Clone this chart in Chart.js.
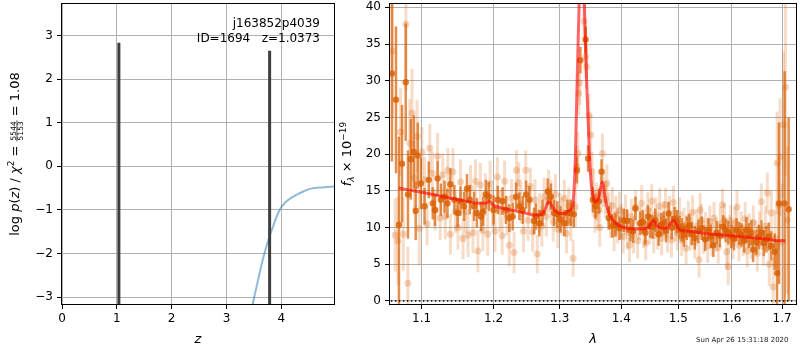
<!DOCTYPE html>
<html>
<head>
<meta charset="utf-8">
<script src="https://cdn.jsdelivr.net/npm/chart.js@4.4.1/dist/chart.umd.min.js"></script>
<style>
  html, body { margin: 0; padding: 0; background: #fff; }
  #wrap { position: relative; width: 800px; height: 350px; }
  #pzChart { position: absolute; left: 0; top: 0; }
  #specChart { position: absolute; left: 330px; top: 0; }
</style>
</head>
<body>
<div id="wrap">
  <canvas id="pzChart" width="340" height="350"></canvas>
  <canvas id="specChart" width="470" height="350"></canvas>
</div>
<script>
// --- left panel: log p(z) ---
const zGrid = [3.40, 3.45, 3.48, 3.55, 3.60, 3.66, 3.70, 3.756, 3.80, 3.85, 3.90, 3.95, 4.00, 4.05, 4.10, 4.20, 4.30, 4.40, 4.52, 4.70, 4.85, 4.99];
const logPz = [-3.7, -3.35, -3.15, -2.75, -2.47, -2.15, -1.96, -1.72, -1.55, -1.38, -1.20, -1.05, -0.94, -0.86, -0.80, -0.71, -0.64, -0.58, -0.52, -0.49, -0.475, -0.46];
const zPeaks = [1.0373, 3.786];
const peakTops = [2.83, 2.65];
const zTicks = [0, 1, 2, 3, 4];
const pzTicks = [-3, -2, -1, 0, 1, 2, 3];

// --- right panel: spectrum ---
const lamLight = [
  1.062, 1.0655, 1.069, 1.0725, 1.076, 1.0795, 1.082, 1.0845, 1.0875, 1.0905, 1.094, 1.097,
  1.1005, 1.104, 1.1075, 1.111, 1.1145, 1.118, 1.1215, 1.125, 1.1285, 1.132, 1.1355, 1.139, 1.1425, 1.146, 1.1495,
  1.153, 1.1565, 1.160, 1.1635, 1.167, 1.1705, 1.174, 1.1775, 1.181, 1.1845, 1.188, 1.1915, 1.195, 1.1985,
  1.202, 1.2055, 1.209, 1.2125, 1.216, 1.2195, 1.223, 1.2265, 1.230, 1.2335, 1.237, 1.2405, 1.244, 1.2475, 1.251,
  1.2545, 1.258, 1.2615, 1.265, 1.2685, 1.272, 1.2755, 1.279, 1.2825, 1.286, 1.2895, 1.293, 1.2965, 1.300,
  1.3035, 1.307, 1.3105, 1.314, 1.3175, 1.321, 1.3245, 1.327, 1.3285, 1.3300, 1.3315, 1.3385, 1.3413, 1.3425,
  1.3464, 1.3493, 1.3515, 1.354, 1.3565, 1.359, 1.3615, 1.364, 1.3665, 1.3685, 1.371, 1.3735, 1.376, 1.379,
  1.382, 1.385, 1.388, 1.391, 1.394, 1.397,
  1.400, 1.4035, 1.407, 1.4105, 1.414, 1.4175, 1.421, 1.4245, 1.428, 1.4315, 1.435, 1.4385, 1.442, 1.4455, 1.449,
  1.4525, 1.456, 1.4595, 1.463, 1.4665, 1.470, 1.4735, 1.477, 1.4805, 1.484, 1.4875, 1.491, 1.4945, 1.498,
  1.502, 1.506, 1.510, 1.514, 1.518, 1.522, 1.526, 1.530, 1.534, 1.538, 1.540, 1.542, 1.546, 1.550, 1.554, 1.558,
  1.562, 1.566, 1.570, 1.574, 1.578, 1.582, 1.586, 1.590, 1.593, 1.596, 1.598,
  1.602, 1.606, 1.610, 1.614, 1.618, 1.622, 1.626, 1.630, 1.634, 1.638, 1.642, 1.646, 1.650, 1.654, 1.658,
  1.662, 1.666, 1.670, 1.674, 1.678, 1.682, 1.686, 1.690, 1.693, 1.696, 1.700, 1.703, 1.707, 1.711
];
const fluxLight = [
  34.0, 9.0, 8.2, 23.0, 9.1, 37.7, 2.4, 21.5, 25.6, 16.8, 22.4, 9.9,
  20.3, 16.5, 10.5, 20.8, 17.4, 12.4, 19.7, 11.3, 17.2, 11.5, 17.8, 9.1, 17.6, 12.2, 10.0,
  16.2, 8.5, 12.2, 9.0, 15.4, 9.3, 16.3, 6.8, 15.8, 9.6, 14.5, 9.1, 16.0, 12.8,
  9.5, 16.9, 12.2, 8.9, 16.3, 11.6, 7.6, 14.0, 6.6, 17.8, 16.1, 13.2, 9.5, 17.8, 11.0,
  15.6, 9.4, 13.8, 6.4, 12.0, 10.2, 14.2, 11.5, 15.0, 13.9, 10.8, 14.5, 9.8, 12.0,
  11.5, 14.0, 9.2, 13.0, 10.8, 5.8, 12.8, 18.3, 20.1, 28.3, 29.7, 38.1, 33.3, 31.9,
  25.3, 22.6, 17.6, 14.6, 11.8, 13.5, 12.4, 10.0, 14.5, 20.1, 15.4, 13.8, 16.0, 12.3,
  11.0, 13.0, 9.2, 11.8, 10.2, 12.4,
  10.8, 8.8, 12.0, 9.4, 7.6, 11.5, 9.0, 12.8, 8.2, 10.6, 13.3, 9.6, 7.9, 12.4, 10.2,
  13.6, 8.9, 11.8, 9.4, 12.9, 8.5, 11.2, 13.1, 9.0, 12.0, 8.3, 13.4, 10.5, 9.2,
  11.8, 8.3, 10.4, 7.2, 11.3, 9.1, 12.1, 8.0, 10.2, 5.6, 12.4, 11.0, 8.7, 9.9, 7.5, 10.8,
  8.4, 11.3, 9.0, 7.3, 10.5, 13.1, 11.0, 6.7, 4.7, 9.4, 10.9,
  8.0, 10.6, 12.8, 7.6, 9.9, 8.3, 11.2, 6.8, 9.6, 7.9, 10.7, 8.6, 6.5, 9.8, 13.5,
  7.4, 10.2, 14.7, 5.0, 12.0, 1.9, 8.5, 18.8, 13.0, 19.6, 8.0, 24.0, 29.1, 11.0
];
const errLight = [
  9, 5, 6, 6, 5, 9, 5, 6, 6, 5, 5, 5,
  3.4, 3.1, 2.9, 3.3, 3.0, 2.8, 3.2, 3.0, 2.9, 3.1, 3.0, 2.8, 3.2, 2.9, 3.0,
  3.1, 2.8, 2.9, 3.0, 3.1, 2.8, 3.0, 2.9, 3.0, 2.8, 2.9, 3.0, 3.1, 2.8,
  2.8, 2.7, 2.9, 2.6, 2.8, 2.7, 2.9, 2.6, 2.8, 2.7, 2.8, 2.6, 2.9, 2.7, 2.8,
  2.6, 2.7, 2.8, 2.6, 2.7, 2.8, 2.6, 2.7, 2.9, 2.6, 2.7, 2.8, 2.6, 2.7,
  2.6, 2.5, 2.7, 2.5, 2.6, 2.5, 2.7, 2.8, 2.9, 3.0, 3.0, 3.1, 3.0, 3.0,
  2.9, 2.8, 2.7, 2.6, 2.5, 2.6, 2.5, 2.6, 2.5, 2.7, 2.6, 2.5, 2.6, 2.5,
  2.4, 2.5, 2.4, 2.5, 2.4, 2.5,
  2.4, 2.3, 2.5, 2.4, 2.3, 2.4, 2.5, 2.3, 2.4, 2.3, 2.5, 2.4, 2.3, 2.4, 2.5,
  2.3, 2.4, 2.3, 2.4, 2.5, 2.3, 2.4, 2.3, 2.4, 2.3, 2.4, 2.3, 2.4, 2.3,
  2.3, 2.2, 2.3, 2.2, 2.3, 2.2, 2.3, 2.2, 2.3, 2.4, 2.3, 2.2, 2.3, 2.2, 2.3, 2.2,
  2.3, 2.2, 2.3, 2.2, 2.3, 2.2, 2.3, 2.4, 2.5, 2.3, 2.2,
  2.3, 2.2, 2.3, 2.2, 2.3, 2.2, 2.3, 2.2, 2.3, 2.2, 2.3, 2.4, 2.5, 2.4, 2.5,
  2.6, 2.7, 2.8, 3.0, 3.0, 4.0, 4.0, 7.0, 6.0, 8.0, 8.0, 10.0, 12.0, 10.0
];

const lamBin = [
  1.0614, 1.0666, 1.0704, 1.0744, 1.0792, 1.0821, 1.0859, 1.0898, 1.0923, 1.0950, 1.0991,
  1.1040, 1.1097, 1.1150, 1.1180, 1.1216, 1.1260, 1.1310, 1.1350, 1.1390, 1.1445, 1.1490, 1.1530,
  1.1580, 1.1620, 1.1660, 1.1720, 1.1760, 1.1820, 1.1850, 1.1890, 1.1930, 1.2000,
  1.2060, 1.2130, 1.2180, 1.2230, 1.2280, 1.2330, 1.2380, 1.2430, 1.2480, 1.2530, 1.2600, 1.2630,
  1.2680, 1.2730, 1.2810, 1.2860, 1.2910, 1.2960, 1.3010, 1.3070, 1.3120, 1.3170, 1.3220, 1.3270,
  1.3326, 1.3411, 1.3450, 1.3527, 1.3570, 1.3627, 1.3670,
  1.3791, 1.3850, 1.3902, 1.3970, 1.4043, 1.4100, 1.4157, 1.4200, 1.4242, 1.4327, 1.4370, 1.4414,
  1.4460, 1.4501, 1.4540, 1.4588, 1.4646, 1.4690, 1.4734, 1.4780, 1.4823, 1.4882, 1.4930, 1.4972,
  1.5020, 1.5062, 1.5100, 1.5153, 1.5200, 1.5244, 1.5300, 1.5368, 1.5430, 1.5492, 1.5553, 1.5600,
  1.5647, 1.5709, 1.5770, 1.5836, 1.5880, 1.5931, 1.5994, 1.6040, 1.6091, 1.6140, 1.6187, 1.6240,
  1.6285, 1.6330, 1.6384, 1.6417, 1.6483, 1.6530, 1.6582, 1.6630, 1.6682, 1.6730, 1.6782, 1.6850,
  1.6898, 1.6937, 1.7054, 1.7136
];
const fluxBin = [
  31.0, 27.4, 10.4, 18.7, 29.8, 14.5, 19.3, 20.3, 12.3, 19.8, 16.0,
  12.9, 16.5, 13.3, 12.4, 16.7, 13.8, 14.2, 13.3, 15.9, 13.8, 12.0, 13.6,
  12.9, 15.3, 13.8, 12.9, 12.0, 11.5, 12.2, 14.5, 14.2, 12.4,
  13.8, 13.6, 12.4, 11.3, 11.5, 14.2, 12.9, 12.4, 14.5, 13.8, 10.9, 11.5,
  10.6, 12.0, 14.9, 14.2, 12.0, 11.8, 11.1, 10.6, 12.0, 12.0, 11.8, 17.8,
  32.8, 35.6, 19.4, 13.8, 12.9, 13.6, 17.6,
  11.3, 10.2, 10.4, 9.9, 11.0, 10.9, 9.7, 9.5, 12.6, 10.6, 10.8, 9.3,
  11.5, 10.2, 10.1, 11.0, 9.1, 10.4, 10.6, 9.6, 11.9, 10.0, 11.2, 10.8,
  10.0, 9.7, 9.0, 9.9, 10.3, 9.2, 8.6, 9.5, 9.9, 8.4, 9.7, 8.8,
  7.6, 9.3, 8.9, 10.1, 9.6, 9.3, 8.8, 8.5, 9.7, 9.2, 9.0, 8.2,
  9.7, 8.9, 9.3, 7.0, 8.0, 8.7, 9.3, 7.9, 8.4, 8.8, 7.5, 6.7,
  3.8, 13.3, 13.3, 12.5
];
const errBin = [
  12, 10, 12, 8, 8, 6, 5.5, 5, 4, 4.5, 3.5,
  2.5, 2.5, 2.2, 2.2, 2.4, 2.2, 2.2, 2.0, 2.2, 2.0, 2.0, 2.0,
  2.0, 2.0, 2.0, 2.0, 2.0, 2.0, 2.0, 2.0, 2.0, 2.0,
  1.9, 1.9, 1.9, 1.9, 1.9, 1.9, 1.9, 1.9, 1.9, 1.9, 1.8, 1.8,
  1.8, 1.8, 1.8, 1.8, 1.8, 1.8, 1.8, 1.8, 1.8, 1.8, 1.8, 1.8,
  1.8, 1.8, 1.8, 1.7, 1.7, 1.7, 1.7,
  1.6, 1.6, 1.6, 1.6, 1.6, 1.6, 1.6, 1.6, 1.6, 1.6, 1.6, 1.6,
  1.6, 1.6, 1.6, 1.6, 1.6, 1.6, 1.6, 1.6, 1.6, 1.6, 1.6, 1.6,
  1.6, 1.6, 1.6, 1.6, 1.6, 1.6, 1.6, 1.6, 1.6, 1.6, 1.6, 1.6,
  1.6, 1.6, 1.6, 1.6, 1.6, 1.6, 1.6, 1.6, 1.6, 1.6, 1.6, 1.6,
  1.7, 1.7, 1.7, 1.7, 1.7, 1.7, 1.7, 1.8, 1.8, 1.9, 2.0, 2.5,
  4.5, 11, 18, 12.5
];

const lamModel = [
  1.070, 1.080, 1.090, 1.100, 1.110, 1.120, 1.130, 1.140, 1.150, 1.160, 1.170, 1.180, 1.188, 1.194, 1.200,
  1.210, 1.220, 1.230, 1.240, 1.250, 1.260, 1.268, 1.275, 1.283, 1.290, 1.300, 1.308, 1.314, 1.3198,
  1.3241, 1.3267, 1.3293, 1.3320, 1.3350, 1.3385, 1.3411, 1.3438, 1.3465, 1.3493, 1.3530, 1.3574,
  1.3627, 1.3682, 1.3738, 1.3791, 1.3875, 1.3959, 1.410, 1.430, 1.445, 1.4505, 1.455, 1.461, 1.470,
  1.480, 1.486, 1.491, 1.496, 1.502, 1.520, 1.550, 1.580, 1.610, 1.640, 1.670, 1.700, 1.707
];
const fluxModel = [
  15.4, 15.2, 15.0, 14.8, 14.6, 14.4, 14.2, 14.0, 13.8, 13.6, 13.4, 13.3, 13.3, 13.6, 13.0,
  12.7, 12.5, 12.3, 12.1, 11.9, 11.7, 11.7, 12.1, 13.5, 12.6, 11.9, 11.9, 12.3, 12.9,
  18.3, 27.4, 36.5, 44.0, 46.0, 42.0, 34.2, 27.4, 21.5, 16.9, 14.2, 13.5,
  14.2, 16.2, 13.7, 12.0, 10.9, 10.3, 9.9, 9.8, 9.9, 10.5, 11.0, 10.3, 9.9,
  10.0, 10.6, 11.0, 10.5, 9.7, 9.5, 9.2, 9.0, 8.8, 8.6, 8.4, 8.2, 8.2
];
const zeroLam = [1.0600, 1.7275];
const lamTicks = [1.1, 1.2, 1.3, 1.4, 1.5, 1.6, 1.7];
const fluxTicks = [0, 5, 10, 15, 20, 25, 30, 35, 40];

const FONT = "'DejaVu Sans', sans-serif";
Chart.defaults.font.family = FONT;
Chart.defaults.font.size = 12;
Chart.defaults.color = '#000';

const pts = (xs, ys) => xs.map((x, i) => ({ x: x, y: ys[i] }));

// error bars drawn under each dataset's markers
const errorBars = {
    id: 'errorBars',
    beforeDatasetDraw(chart, args) {
        const ds = chart.data.datasets[args.index];
        if (!ds.errs) return;
        const { ctx, chartArea: a, scales } = chart;
        ctx.save();
        ctx.beginPath();
        ctx.rect(a.left, a.top, a.right - a.left, a.bottom - a.top);
        ctx.clip();
        ctx.strokeStyle = ds.errColor;
        ctx.lineWidth = ds.errWidth;
        ds.data.forEach((p, i) => {
            const px = scales.x.getPixelForValue(p.x);
            ctx.beginPath();
            ctx.moveTo(px, scales.y.getPixelForValue(p.y - ds.errs[i]));
            ctx.lineTo(px, scales.y.getPixelForValue(p.y + ds.errs[i]));
            ctx.stroke();
        });
        ctx.restore();
    }
};

// black box around the plot area
const frame = {
    id: 'frame',
    afterDraw(chart) {
        const { ctx, chartArea: a } = chart;
        ctx.save();
        ctx.strokeStyle = '#000';
        ctx.lineWidth = 1;
        ctx.strokeRect(Math.round(a.left) - 0.5, Math.round(a.top) - 0.5,
            Math.round(a.right - a.left) + 1, Math.round(a.bottom - a.top) + 1);
        ctx.restore();
    }
};

// text made of pieces (italic, sub/superscript, fraction)
function pieceWidth(ctx, s) {
    ctx.font = s.font;
    if (s.frac) return Math.max(ctx.measureText(s.top).width, ctx.measureText(s.bot).width) + 2;
    return ctx.measureText(s.t).width;
}
function drawPieces(ctx, pieces, cx, base) {
    let x = cx - pieces.reduce((w, s) => w + pieceWidth(ctx, s), 0) / 2;
    ctx.textBaseline = 'alphabetic';
    pieces.forEach(s => {
        const w = pieceWidth(ctx, s);
        ctx.font = s.font;
        if (s.frac) {
            ctx.textAlign = 'center';
            ctx.fillText(s.top, x + w / 2, base - 3);
            ctx.fillText(s.bot, x + w / 2, base + 3.6);
            ctx.fillRect(x, base - 2.4, w, 0.7);
        } else {
            ctx.textAlign = 'left';
            ctx.fillText(s.t, x, base + (s.dy || 0));
        }
        x += w;
    });
}
function rotatedLabel(ctx, pieces, bx, cy) {
    ctx.save();
    ctx.fillStyle = '#000';
    ctx.translate(bx, cy);
    ctx.rotate(-Math.PI / 2);
    drawPieces(ctx, pieces, 0, 0);
    ctx.restore();
}

const R = '13px ' + FONT, I = 'italic 13px ' + FONT;
const S = '9px ' + FONT, SI = 'italic 9px ' + FONT;

const pzLabels = {
    id: 'pzLabels',
    afterDraw(chart) {
        const { ctx, chartArea: a } = chart;
        rotatedLabel(ctx, [
            { t: 'log ', font: R }, { t: 'p', font: I }, { t: '(', font: R }, { t: 'z', font: I },
            { t: ')', font: R }, { t: ' / ', font: R }, { t: '\u03c7', font: I }, { t: '2', font: S, dy: -5 },
            { t: ' = ', font: R }, { frac: true, top: '5544', bot: '5153', font: '7.5px ' + FONT },
            { t: ' = 1.08', font: R }
        ], 19, (a.top + a.bottom) / 2);
        ctx.save();
        ctx.fillStyle = '#000';
        ctx.font = '12px ' + FONT;
        ctx.textAlign = 'right';
        ctx.fillText('j163852p4039', a.right - 14, 27);
        ctx.fillText('ID=1694   z=1.0373', a.right - 14, 41.5);
        ctx.font = 'italic 13px ' + FONT;
        ctx.textAlign = 'center';
        ctx.fillText('z', (a.left + a.right) / 2, 343);
        ctx.restore();
    }
};

const specLabels = {
    id: 'specLabels',
    afterDraw(chart) {
        const { ctx, chartArea: a } = chart;
        rotatedLabel(ctx, [
            { t: 'f', font: I }, { t: '\u03bb', font: SI, dy: 3 }, { t: ' \u00d7 10', font: R },
            { t: '\u221219', font: S, dy: -5 }
        ], 21, (a.top + a.bottom) / 2);
        ctx.save();
        ctx.fillStyle = '#000';
        ctx.font = 'italic 13px ' + FONT;
        ctx.textAlign = 'center';
        ctx.fillText('\u03bb', (a.left + a.right) / 2, 343);
        ctx.font = '7px ' + FONT;
        ctx.fillStyle = '#222';
        ctx.textAlign = 'left';
        ctx.fillText('Sun Apr 26 15:31:18 2020', 366, 342);
        ctx.restore();
    }
};

const gridOpts = { color: '#b0b0b0', lineWidth: 1, tickColor: '#000', tickLength: 5 };
const fixTicks = list => scale => { scale.ticks = list.map(v => ({ value: v })); };
const minus = v => (v < 0 ? '\u2212' + Math.abs(v) : String(v));
// fixed axis sizes, no extra room for overhanging tick labels
const fixSize = (w, h) => s => {
    if (w) s.width = w;
    if (h) s.height = h;
    s.paddingTop = 0; s.paddingBottom = 0; s.paddingLeft = 0; s.paddingRight = 0;
};

// --- left chart ---
new Chart(document.getElementById('pzChart'), {
    type: 'scatter',
    data: {
        datasets: [
            ...zPeaks.map((z, i) => ({
                data: [{ x: z, y: -4 }, { x: z, y: peakTops[i] }],
                showLine: true, borderColor: '#3f3f3f', borderWidth: 3,
                pointRadius: 0, borderCapStyle: 'butt'
            })),
            {
                data: pts(zGrid, logPz),
                showLine: true, borderColor: 'rgba(31,119,180,0.5)', borderWidth: 2,
                pointRadius: 0, cubicInterpolationMode: 'monotone'
            }
        ]
    },
    options: {
        responsive: false,
        animation: false,
        layout: { padding: { top: 4, right: 6, left: 0, bottom: 0 } },
        plugins: { legend: { display: false }, tooltip: { enabled: false } },
        scales: {
            x: {
                type: 'linear', min: 0, max: 4.96,
                grid: gridOpts, border: { display: false },
                afterBuildTicks: fixTicks(zTicks),
                afterFit: fixSize(0, 46),
                ticks: { padding: 3, maxRotation: 0, callback: v => String(v) }
            },
            y: {
                type: 'linear', min: -3.16, max: 3.72,
                grid: gridOpts, border: { display: false },
                afterBuildTicks: fixTicks(pzTicks),
                afterFit: fixSize(62, 0),
                ticks: { padding: 4, callback: minus }
            }
        }
    },
    plugins: [frame, pzLabels]
});

// --- right chart ---
new Chart(document.getElementById('specChart'), {
    type: 'scatter',
    data: {
        datasets: [
            {
                data: pts(lamLight, fluxLight), errs: errLight,
                errColor: 'rgba(217,95,2,0.22)', errWidth: 3,
                pointRadius: 3.5, pointBackgroundColor: 'rgba(217,95,2,0.25)', pointBorderWidth: 0,
                order: 4
            },
            {
                data: pts(lamBin, fluxBin), errs: errBin,
                errColor: 'rgba(217,95,2,0.7)', errWidth: 2.5,
                pointRadius: 3.2, pointBackgroundColor: 'rgba(217,95,2,0.8)', pointBorderWidth: 0,
                order: 3
            },
            {
                data: pts(lamModel, fluxModel),
                showLine: true, borderColor: 'rgba(255,0,0,0.6)', borderWidth: 3,
                pointRadius: 0, cubicInterpolationMode: 'monotone', order: 2
            },
            {
                data: pts(zeroLam, [0, 0]),
                showLine: true, borderColor: '#000', borderWidth: 1.5, borderDash: [1.5, 2.5],
                pointRadius: 0, order: 1
            }
        ]
    },
    options: {
        responsive: false,
        animation: false,
        layout: { padding: { top: 4, right: 2, left: 0, bottom: 0 } },
        plugins: { legend: { display: false }, tooltip: { enabled: false } },
        scales: {
            x: {
                type: 'logarithmic', min: 1.0589, max: 1.7289,
                grid: gridOpts, border: { display: false },
                afterBuildTicks: fixTicks(lamTicks),
                afterFit: fixSize(0, 46),
                ticks: { padding: 3, maxRotation: 0, autoSkip: false, callback: v => Number(v).toFixed(1) }
            },
            y: {
                type: 'linear', min: -0.41, max: 40.45,
                grid: gridOpts, border: { display: false },
                afterBuildTicks: fixTicks(fluxTicks),
                afterFit: fixSize(60, 0),
                ticks: { padding: 4, callback: v => String(v) }
            }
        }
    },
    plugins: [errorBars, frame, specLabels]
});
</script>
</body>
</html>
